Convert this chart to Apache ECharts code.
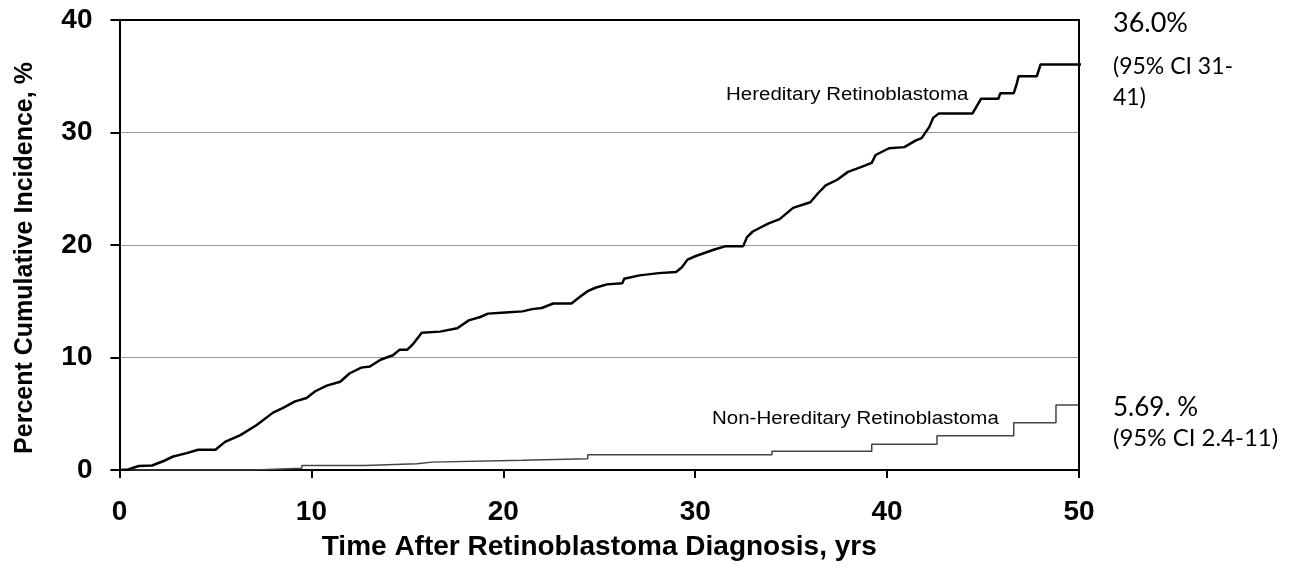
<!DOCTYPE html>
<html>
<head>
<meta charset="utf-8">
<script src="https://cdn.jsdelivr.net/npm/echarts@6/dist/echarts.min.js"></script>
<style>
  html, body { margin: 0; padding: 0; background: #fff; }
  #chart { width: 1293px; height: 571px; }
</style>
</head>
<body>
<div id="chart"></div>
<script>
// years after diagnosis / cumulative incidence (%)
const hereditaryYears = [0, 0.45, 1.0, 1.7, 2.3, 2.8, 3.5, 4.1, 5.0, 5.5, 6.3, 7.15, 8.0, 8.5, 9.15, 9.75,
  10.2, 10.8, 11.5, 12.0, 12.6, 13.05, 13.6, 14.25, 14.6, 15.0, 15.3, 15.75, 16.7, 17.6, 18.2, 18.8,
  19.2, 20.1, 21.0, 21.5, 22.0, 22.6, 23.55, 24.0, 24.4, 24.8, 25.4, 26.2, 26.3, 27.1, 28.1, 29.0,
  29.3, 29.6, 30.0, 31.0, 31.6, 32.5, 32.7, 33.0, 33.8, 34.4, 35.1, 36.0, 36.4, 36.8, 37.4, 37.96,
  38.6, 39.2, 39.4, 40.1, 40.9, 41.5, 41.8, 42.2, 42.4, 42.7, 44.45, 44.9, 45.8, 45.9, 46.6, 46.75,
  46.85, 47.8, 48.0, 50.2];
const hereditaryPct = [0, 0.05, 0.35, 0.4, 0.8, 1.2, 1.5, 1.8, 1.8, 2.5, 3.1, 4.0, 5.1, 5.5, 6.1, 6.4,
  7.0, 7.5, 7.85, 8.6, 9.1, 9.2, 9.8, 10.2, 10.7, 10.7, 11.2, 12.2, 12.3, 12.6, 13.3, 13.6,
  13.9, 14.0, 14.1, 14.3, 14.4, 14.8, 14.8, 15.4, 15.9, 16.2, 16.5, 16.6, 17.0, 17.3, 17.5, 17.6,
  18.0, 18.7, 19.0, 19.6, 19.9, 19.9, 20.7, 21.2, 21.9, 22.3, 23.3, 23.8, 24.6, 25.3, 25.8, 26.5,
  26.9, 27.3, 28.0, 28.6, 28.7, 29.3, 29.5, 30.5, 31.3, 31.7, 31.7, 33.0, 33.0, 33.5, 33.5, 34.3,
  35.0, 35.0, 36.05, 36.05];

const nonHereditaryYears = [0, 7.0, 9.5, 12.8, 15.5, 16.3, 21.0, 24.4, 34.0, 39.2, 42.6, 46.6, 48.8, 50];
const nonHereditaryPct = [0, 0.15, 0.4, 0.55, 0.7, 0.86, 1.0, 1.36, 1.67, 2.3, 3.05, 4.2, 5.78, 5.78];

const xTicks = [0, 10, 20, 30, 40, 50];
const yTicks = [0, 10, 20, 30, 40];

const zip = (xs, ys) => xs.map((x, i) => [x, ys[i]]);

var chartDom = document.getElementById("chart");
var myChart = echarts.init(chartDom, null, { renderer: "canvas" });

const boldFont = "'Liberation Sans', Arial, sans-serif";
const noteFont = "Lato, 'Open Sans', sans-serif";

// small helper for the free text notes
function note(x, y, text, size, family, sx) {
  return {
    type: "text",
    x: x,
    y: y,
    scaleX: sx || 1,
    style: { text: text, font: size + "px " + family, fill: "#000", textVerticalAlign: "middle" },
  };
}

var option = {
  animation: false,
  grid: { left: 119.5, right: 214, top: 20, bottom: 101 },
  xAxis: [
    {
      type: "value",
      min: xTicks[0],
      max: xTicks[xTicks.length - 1],
      interval: 10,
      name: "Time After Retinoblastoma Diagnosis, yrs",
      nameLocation: "middle",
      nameGap: 63,
      nameTextStyle: { fontFamily: boldFont, fontWeight: "bold", fontSize: 28, color: "#000" },
      axisLine: { show: true, lineStyle: { color: "#000", width: 2 } },
      axisTick: { show: true, inside: false, length: 8, lineStyle: { color: "#000", width: 2 } },
      axisLabel: { margin: 28, fontFamily: boldFont, fontWeight: "bold", fontSize: 28, color: "#000" },
      splitLine: { show: false },
    },
    {
      // top border of the frame
      type: "value",
      position: "top",
      min: 0,
      max: 50,
      z: 5,
      axisLine: { show: true, onZero: false, lineStyle: { color: "#000", width: 2 } },
      axisTick: { show: false },
      axisLabel: { show: false },
      splitLine: { show: false },
    },
  ],
  yAxis: [
    {
      type: "value",
      min: yTicks[0],
      max: yTicks[yTicks.length - 1],
      interval: 10,
      name: "Percent Cumulative Incidence, %",
      nameLocation: "middle",
      nameGap: 82,
      nameTextStyle: { fontFamily: boldFont, fontWeight: "bold", fontSize: 25, color: "#000", padding: [0, 26, 0, 0] },
      axisLine: { show: true, lineStyle: { color: "#000", width: 2 } },
      axisTick: { show: true, inside: false, length: 9, lineStyle: { color: "#000", width: 2 } },
      axisLabel: { margin: 27, fontFamily: boldFont, fontWeight: "bold", fontSize: 28, color: "#000" },
      splitLine: { show: true, lineStyle: { color: "#999", width: 1 } },
    },
    {
      // right border of the frame
      type: "value",
      position: "right",
      min: 0,
      max: 40,
      z: 5,
      axisLine: { show: true, onZero: false, lineStyle: { color: "#000", width: 2 } },
      axisTick: { show: false },
      axisLabel: { show: false },
      splitLine: { show: false },
    },
  ],
  series: [
    {
      name: "Hereditary Retinoblastoma",
      type: "line",
      showSymbol: false,
      data: zip(hereditaryYears, hereditaryPct),
      lineStyle: { color: "#000", width: 2.5 },
      z: 4,
    },
    {
      name: "Non-Hereditary Retinoblastoma",
      type: "line",
      step: "end",
      showSymbol: false,
      data: zip(nonHereditaryYears, nonHereditaryPct),
      lineStyle: { color: "#444", width: 1.5 },
      z: 3,
    },
  ],
  graphic: [
    note(726, 95, "Hereditary Retinoblastoma", 17.5, boldFont, 1.17),
    note(712, 419, "Non-Hereditary Retinoblastoma", 17.5, boldFont, 1.17),
    note(1113, 23, "36.0%", 27, noteFont),
    note(1113, 67, "(95% CI 31-", 23, noteFont),
    note(1113, 98, "41)", 23, noteFont),
    note(1113, 408, "5.69. %", 26, noteFont),
    note(1113, 438, "(95% CI 2.4-11)", 24, noteFont),
  ],
};

myChart.setOption(option);
</script>
</body>
</html>
